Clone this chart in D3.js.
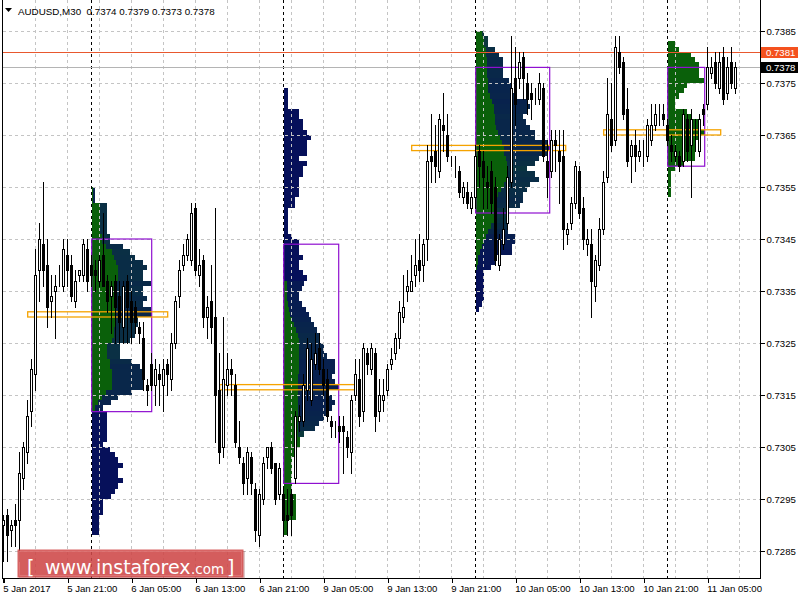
<!DOCTYPE html>
<html><head><meta charset="utf-8">
<script src="https://cdn.jsdelivr.net/npm/d3@7/dist/d3.min.js"></script>
<style>body{margin:0;background:#fff}svg{display:block}</style>
</head><body>
<svg id="chart" width="800" height="600"></svg>
<script>
// ---------------- DATA ----------------
const symbolName = "AUDUSD,M30";
const opens = [
.7290,.7292,.7289,.7291,.7291,.7299,.7304,.7312,.7319,.7339,.7344,.7340,.7333,.7335,.7337,.7336,.7342,.7340,.7333,.7338,
.7338,.7343,.7340,.7339,.7337,.7342,.7337,.7334,.7337,.7334,.7328,.7337,.7333,.7332,.7328,.7326,.7317,.7321,.7317,.7319,
.7317,.7321,.7318,.7325,.7334,.7340,.7342,.7341,.7351,.7338,.7341,.7330,.7333,.7330,.7316,.7305,.7317,.7320,.7317,.7305,
.7302,.7299,.7303,.7297,.7288,.7295,.7303,.7305,.7302,.7296,.7296,.7292,.7296,.7299,.7310,.7310,.7316,.7314,.7321,.7324,
.7320,.7318,.7310,.7308,.7309,.7309,.7307,.7304,.7315,.7318,.7312,.7323,.7320,.7323,.7312,.7314,.7316,.7321,.7323,.7326,
.7330,.7335,.7335,.7338,.7341,.7340,.7345,.7361,.7362,.7358,.7367,.7365,.7360,.7359,.7358,.7353,.7354,.7351,.7353,.7362,
.7360,.7356,.7358,.7355,.7340,.7344,.7348,.7356,.7376,.7376,.7380,.7375,.7373,.7373,.7372,.7374,.7360,.7358,.7364,.7362,
.7361,.7346,.7348,.7352,.7358,.7351,.7344,.7344,.7336,.7340,.7347,.7357,.7368,.7364,.7381,.7379,.7370,.7361,.7363,.7361,
.7362,.7361,.7364,.7367,.7370,.7369,.7367,.7363,.7361,.7361,.7360,.7368,.7363,.7364,.7362,.7370,.7371,.7377,.7379,.7374,
.7380,.7373,.7379,.7374];
const highs = [
.7292,.7293,.7291,.7294,.7304,.7306,.7314,.7322,.7343,.7348,.7356,.7345,.7338,.7338,.7340,.7345,.7345,.7342,.7339,.7339,
.7345,.7345,.7342,.7341,.7342,.7350,.7338,.7337,.7338,.7337,.7337,.7338,.7335,.7333,.7329,.7329,.7318,.7323,.7322,.7321,
.7322,.7322,.7327,.7334,.7341,.7344,.7346,.7352,.7352,.7343,.7342,.7334,.7340,.7351,.7323,.7330,.7323,.7322,.7319,.7310,
.7303,.7305,.7304,.7298,.7297,.7303,.7305,.7306,.7302,.7302,.7297,.7297,.7297,.7312,.7313,.7319,.7326,.7325,.7327,.7327,
.7322,.7320,.7311,.7310,.7311,.7311,.7308,.7315,.7322,.7322,.7325,.7324,.7325,.7324,.7318,.7318,.7321,.7324,.7327,.7333,
.7338,.7339,.7342,.7345,.7346,.7345,.7363,.7369,.7367,.7369,.7373,.7369,.7361,.7361,.7359,.7356,.7356,.7354,.7363,.7363,
.7362,.7359,.7360,.7357,.7346,.7351,.7359,.7384,.7382,.7381,.7381,.7377,.7375,.7374,.7377,.7375,.7364,.7366,.7366,.7366,
.7366,.7348,.7353,.7360,.7359,.7353,.7347,.7347,.7342,.7349,.7358,.7376,.7375,.7384,.7384,.7380,.7374,.7364,.7366,.7364,
.7364,.7368,.7371,.7371,.7371,.7371,.7368,.7365,.7363,.7362,.7370,.7369,.7370,.7368,.7369,.7371,.7382,.7380,.7381,.7381,
.7382,.7380,.7382,.7379];
const lows = [
.7283,.7283,.7286,.7286,.7283,.7297,.7302,.7309,.7316,.7333,.7336,.7328,.7330,.7326,.7336,.7335,.7336,.7333,.7332,.7337,
.7337,.7335,.7336,.7335,.7336,.7336,.7331,.7327,.7325,.7325,.7325,.7325,.7325,.7327,.7325,.7316,.7313,.7316,.7313,.7313,
.7312,.7315,.7316,.7324,.7332,.7339,.7341,.7340,.7338,.7336,.7328,.7326,.7325,.7306,.7302,.7303,.7315,.7315,.7305,.7302,
.7296,.7296,.7296,.7287,.7286,.7294,.7301,.7300,.7294,.7295,.7288,.7288,.7288,.7298,.7308,.7309,.7314,.7313,.7320,.7319,
.7315,.7310,.7307,.7307,.7306,.7300,.7303,.7300,.7314,.7309,.7310,.7319,.7319,.7308,.7310,.7312,.7315,.7320,.7322,.7324,
.7329,.7333,.7335,.7336,.7337,.7337,.7341,.7356,.7356,.7357,.7362,.7360,.7359,.7357,.7353,.7352,.7351,.7350,.7351,.7355,
.7351,.7351,.7350,.7340,.7339,.7343,.7347,.7355,.7367,.7374,.7372,.7369,.7368,.7371,.7371,.7360,.7353,.7357,.7358,.7352,
.7343,.7344,.7347,.7351,.7349,.7343,.7342,.7330,.7333,.7339,.7346,.7356,.7362,.7363,.7377,.7368,.7359,.7356,.7358,.7360,
.7359,.7360,.7363,.7366,.7367,.7367,.7363,.7360,.7360,.7358,.7359,.7360,.7353,.7362,.7361,.7367,.7370,.7376,.7374,.7373,
.7371,.7372,.7374,.7373];
const closes = [
.7291,.7288,.7290,.7290,.7300,.7305,.7311,.7320,.7338,.7345,.7339,.7332,.7334,.7336,.7337,.7343,.7339,.7334,.7337,.7339,
.7344,.7337,.7338,.7338,.7341,.7336,.7333,.7336,.7332,.7329,.7336,.7332,.7329,.7329,.7327,.7318,.7316,.7317,.7320,.7318,
.7320,.7319,.7325,.7333,.7339,.7342,.7345,.7350,.7339,.7340,.7330,.7332,.7328,.7315,.7304,.7318,.7320,.7319,.7306,.7303,
.7298,.7304,.7298,.7289,.7296,.7302,.7305,.7301,.7295,.7301,.7291,.7291,.7292,.7311,.7311,.7317,.7324,.7322,.7323,.7320,
.7317,.7311,.7309,.7308,.7308,.7308,.7305,.7314,.7319,.7311,.7324,.7321,.7324,.7311,.7315,.7315,.7320,.7322,.7326,.7331,
.7332,.7336,.7337,.7340,.7339,.7344,.7360,.7360,.7359,.7368,.7366,.7361,.7360,.7359,.7354,.7355,.7352,.7353,.7361,.7359,
.7357,.7355,.7352,.7341,.7345,.7347,.7357,.7374,.7371,.7379,.7376,.7372,.7372,.7373,.7375,.7361,.7357,.7364,.7363,.7360,
.7347,.7347,.7352,.7359,.7350,.7345,.7345,.7337,.7341,.7347,.7356,.7369,.7363,.7382,.7378,.7369,.7360,.7363,.7361,.7362,
.7362,.7367,.7367,.7369,.7370,.7368,.7364,.7362,.7362,.7359,.7369,.7362,.7368,.7364,.7368,.7369,.7378,.7378,.7375,.7379,
.7372,.7378,.7375,.7378];

const xTickBars = [0,16,32,48,64,80,96,112,128,144,160,176];
const xTickLabels = ["5 Jan 2017","5 Jan 21:00","6 Jan 05:00","6 Jan 13:00","6 Jan 21:00","9 Jan 05:00",
  "9 Jan 13:00","9 Jan 21:00","10 Jan 05:00","10 Jan 13:00","10 Jan 21:00","11 Jan 05:00"];
const yTickValues = [0.7285,0.7295,0.7305,0.7315,0.7325,0.7335,0.7345,0.7355,0.7365,0.7375,0.7385];
const askPrice = 0.7381;
const bidPrice = 0.7378;

// daily volume profiles (rows of 1 pip, listed from the top row's lower price downward)
const sessionStartBars = [22, 70, 118, 166];
const profileTopPrices = [0.7354, 0.7373, 0.7384, 0.7382];
const profile1Total = [3,3,3,15,15,15,15,15,15,18,18,31,38,43,51,55,51,51,59,51,51,55,51,59,60,46,46,43,43,38,
  28,28,28,40,48,51,51,51,51,40,26,19,11,15,15,15,15,15,15,11,18,23,26,31,26,26,31,26,23,19,11,11,11,7,7,7,7];
const profile1Green = [1,1,1,8,8,8,8,8,8,10,10,14,20,22,24,26,26,26,25,24,24,23,23,23,23,24,24,22,22,20,
  15,15,15,18,18,20,20,20,20,14,10,6,3,0,0,0,0,0,0,0,0,0,0,0,0,0,0,0,0,0,0,0,0,0,0,0,0];
const profile2Total = [4,4,4,4,15,15,19,19,23,27,23,23,23,15,23,19,19,15,15,15,15,11,11,4,4,4,4,4,8,15,
  15,15,19,15,15,19,23,20,18,15,15,18,22,25,27,30,33,35,35,40,40,43,51,51,51,48,51,55,43,48,
  51,48,43,40,35,31,20,16,16,12,12,8,8,8,8,7,8,8,12,12,12,12,12,4,4,4];
const profile2Green = [0,0,0,0,0,0,0,0,0,0,0,0,0,0,0,0,0,0,0,0,0,0,0,0,0,0,0,0,0,0,
  0,0,0,0,0,0,0,3,3,3,3,4,5,6,8,10,12,14,15,15,15,15,15,15,15,14,14,14,14,14,
  14,14,14,14,14,14,14,16,16,12,12,8,8,8,8,7,8,8,12,12,12,12,12,4,4,4];
const profile3Total = [8,12,12,19,23,27,27,27,27,33,36,36,39,51,54,51,47,50,54,59,59,71,74,71,63,59,51,59,63,54,
  51,47,47,44,32,32,32,32,32,39,39,36,36,19,19,15,8,8,8,8,8,8,6,3];
const profile3Green = [6,8,8,10,10,11,11,11,11,12,12,12,14,16,18,18,19,19,20,22,24,26,28,28,30,31,31,31,30,28,
  25,22,20,20,20,20,18,15,12,10,8,6,4,2,2,1,0,0,0,0,0,0,0,0];
const profile4Total = [7,11,23,27,31,31,31,36,19,16,11,7,7,19,23,31,31,37,31,27,27,27,27,16,7,3,3,3,3,3];
const profile4Green = [7,11,23,27,31,31,31,36,19,16,11,7,7,19,23,31,31,37,31,27,27,27,27,16,7,3,3,3,3,3];
const valueAreaHigh = [0.7345, 0.7344, 0.7378, 0.7378];
const valueAreaLow  = [0.73118, 0.7298, 0.7350, 0.7359];

// ---------------- CHART ----------------
const svg = d3.select("#chart");
const plotL = 2.5, plotR = 760.5, plotB = 578.5, plotT = 0;
const n = opens.length;
const x = d3.scaleLinear().domain([0, n - 1]).range([3.7, 3.7 + 4 * (n - 1)]);
const y = d3.scaleLinear().domain([0.7285, 0.7385]).range([551, 31]);
const vol = d3.scaleLinear().domain([0, 100]).range([0, 100]);
const pip = 0.0001;

svg.append("defs").append("clipPath").attr("id","plotclip")
  .append("rect").attr("x",plotL).attr("y",plotT).attr("width",plotR-plotL).attr("height",plotB-plotT);
const plot = svg.append("g").attr("clip-path","url(#plotclip)");

// volume profiles
const profiles = [
  {total: profile1Total, green: profile1Green},
  {total: profile2Total, green: profile2Green},
  {total: profile3Total, green: profile3Green},
  {total: profile4Total, green: profile4Green}
];
const greenCol = "#0a600a";
const blueCol = d3.interpolateRgb("#06105a", "#0b3a3c");
const profG = plot.append("g").attr("shape-rendering","crispEdges");
profiles.forEach((p, k) => {
  const x0 = x(sessionStartBars[k]);
  const rows = p.total.map((t, i) => ({
    low: profileTopPrices[k] - i * pip, total: t, green: p.green[i]
  }));
  const g = profG.append("g");
  g.selectAll("rect.g").data(rows.filter(r => r.green > 0)).join("rect")
    .attr("x", x0).attr("y", r => y(r.low + pip)).attr("width", r => vol(r.green))
    .attr("height", r => y(r.low) - y(r.low + pip)).attr("fill", greenCol);
  g.selectAll("rect.b").data(rows.filter(r => r.total > r.green)).join("rect")
    .attr("x", r => x0 + vol(r.green)).attr("y", r => y(r.low + pip))
    .attr("width", r => vol(r.total - r.green))
    .attr("height", r => y(r.low) - y(r.low + pip))
    .attr("fill", r => blueCol(Math.min(1, 1.4 * r.green / r.total)));
  p.rows = rows;
});

// grid
const gridG = plot.append("g").attr("stroke","#c4c4c4").attr("stroke-dasharray","3,3").attr("shape-rendering","crispEdges");
gridG.selectAll("line.h").data(yTickValues).join("line")
  .attr("x1", plotL).attr("x2", plotR).attr("y1", d => Math.round(y(d)) + 0.5).attr("y2", d => Math.round(y(d)) + 0.5);
gridG.selectAll("line.v").data(d3.range(8, n + 1, 8)).join("line")
  .attr("y1", plotT).attr("y2", plotB).attr("x1", d => Math.floor(x(d)) + 0.5).attr("x2", d => Math.floor(x(d)) + 0.5);

// day separators
plot.append("g").selectAll("line").data(sessionStartBars).join("line")
  .attr("x1", d => Math.floor(x(d)) + 0.5).attr("x2", d => Math.floor(x(d)) + 0.5)
  .attr("y1", plotT).attr("y2", plotB).attr("stroke","#000").attr("stroke-dasharray","3,3");

// price lines
plot.append("line").attr("x1",plotL).attr("x2",plotR).attr("y1",Math.round(y(askPrice))+0.5).attr("y2",Math.round(y(askPrice))+0.5)
  .attr("stroke","#e8582e");
plot.append("line").attr("x1",plotL).attr("x2",plotR).attr("y1",Math.round(y(bidPrice))+0.5).attr("y2",Math.round(y(bidPrice))+0.5)
  .attr("stroke","#b4b4b4");

// value-area boxes and POC bars
profiles.forEach((p, k) => {
  const x0 = x(sessionStartBars[k]);
  const maxV = d3.max(p.total);
  const poc = p.rows.find(r => r.total === maxV);
  plot.append("rect").attr("x", x0).attr("y", y(valueAreaHigh[k]))
    .attr("width", vol(maxV)).attr("height", y(valueAreaLow[k]) - y(valueAreaHigh[k]))
    .attr("fill","none").attr("stroke","#8f10d0").attr("stroke-width",1.2);
  const xl = x(sessionStartBars[k] - 16);
  const xr = x0 + vol(maxV) + (x(1) - x(0)) * 4;
  plot.append("rect").attr("x", xl).attr("y", y(poc.low + pip))
    .attr("width", xr - xl).attr("height", y(poc.low) - y(poc.low + pip))
    .attr("fill","none").attr("stroke","#f5a300").attr("stroke-width",1.3);
});

// candles
const bars = opens.map((o, i) => ({i, o, h: highs[i], l: lows[i], c: closes[i]}));
const cg = plot.append("g").attr("shape-rendering","crispEdges");
cg.selectAll("line.w").data(bars).join("line")
  .attr("x1", d => Math.floor(x(d.i)) + 0.5).attr("x2", d => Math.floor(x(d.i)) + 0.5)
  .attr("y1", d => Math.round(y(d.h))).attr("y2", d => Math.round(y(d.l)) + 1)
  .attr("stroke","#000");
cg.selectAll("rect.b").data(bars).join("rect")
  .attr("x", d => Math.floor(x(d.i)) - 0.5)
  .attr("y", d => Math.round(y(Math.max(d.o, d.c))) + 0.5)
  .attr("width", 2)
  .attr("height", d => Math.max(0, Math.round(y(Math.min(d.o, d.c))) - Math.round(y(Math.max(d.o, d.c)))))
  .attr("fill", d => d.c >= d.o ? "#fff" : "#000")
  .attr("stroke","#000");

// frame & axes
const frame = svg.append("g").attr("stroke","#000").attr("shape-rendering","crispEdges");
frame.append("line").attr("x1",plotL).attr("x2",plotL).attr("y1",plotT).attr("y2",plotB);
frame.append("line").attr("x1",plotR).attr("x2",plotR).attr("y1",plotT).attr("y2",plotB);
frame.append("line").attr("x1",plotL).attr("x2",plotR).attr("y1",plotB).attr("y2",plotB);

const font = "'Liberation Sans', Arial, sans-serif";
const yAx = svg.append("g").attr("transform", `translate(${plotR},0)`);
yAx.call(d3.axisRight(y).tickValues(yTickValues).tickFormat(d3.format(".4f")).tickSize(4).tickPadding(2));
yAx.select(".domain").remove();
yAx.selectAll("text").attr("font-family", font).attr("font-size", 9.6).attr("fill","#000");
yAx.selectAll("line").attr("stroke","#000").attr("shape-rendering","crispEdges");

const xAx = svg.append("g").attr("transform", `translate(0,${plotB})`);
xAx.call(d3.axisBottom(x).tickValues(xTickBars).tickFormat((d, i) => xTickLabels[i]).tickSize(4).tickPadding(3));
xAx.select(".domain").remove();
xAx.selectAll("line").attr("stroke","#000").attr("shape-rendering","crispEdges")
  .attr("transform", d => `translate(${Math.floor(x(d)) + 0.5 - x(d)},0)`);
xAx.selectAll("text").attr("font-family", font).attr("font-size", 9.6).attr("fill","#000")
  .attr("text-anchor","start").attr("dx", -1);

// price tags
function tag(v, bg) {
  const yc = y(v);
  svg.append("rect").attr("x", 761).attr("y", Math.round(yc) - 5).attr("width", 37).attr("height", 11).attr("fill", bg);
  svg.append("text").attr("x", 766).attr("y", Math.round(yc) + 3.5).text(d3.format(".4f")(v))
    .attr("font-family", font).attr("font-size", 9.6).attr("fill", "#fff");
}
tag(askPrice, "#f4511e");
tag(bidPrice, "#000");

// header
svg.append("path").attr("d","M5,8 L12,8 L8.5,12 Z").attr("fill","#000");
const last = n - 1;
svg.append("text").attr("x", 18).attr("y", 15).attr("font-family", font).attr("font-size", 9.8).attr("fill","#000")
  .style("white-space","pre")
  .text(`${symbolName}  ${[opens[last], highs[last], lows[last], closes[last]].map(d3.format(".4f")).join(" ")}`);

// watermark
const wm = svg.append("g");
wm.append("rect").attr("x", 19).attr("y", 551).attr("width", 226).attr("height", 28).attr("fill", "#7a2a2a").attr("opacity", 0.25);
wm.append("rect").attr("x", 17.5).attr("y", 549.5).attr("width", 226).attr("height", 28).attr("fill", "#d24b4b").attr("opacity", 0.86);
wm.append("rect").attr("x", 19.5).attr("y", 551.5).attr("width", 222).attr("height", 24).attr("fill", "none")
  .attr("stroke", "#f0a0a0").attr("stroke-width", 0.6).attr("opacity", 0.6);
const wf = "'DejaVu Sans', Verdana, sans-serif";
wm.append("text").attr("x", 27).attr("y", 574).attr("font-family", wf).attr("font-size", 19).attr("fill", "#fff").text("[");
wm.append("text").attr("x", 45).attr("y", 574).attr("font-family", wf).attr("font-size", 19).attr("fill", "#fff").text("www.instaforex");
wm.append("text").attr("x", 191).attr("y", 574).attr("font-family", wf).attr("font-size", 13.5).attr("fill", "#fff").text(".com");
wm.append("text").attr("x", 227).attr("y", 574).attr("font-family", wf).attr("font-size", 19).attr("fill", "#fff").text("]");
</script>
</body></html>
